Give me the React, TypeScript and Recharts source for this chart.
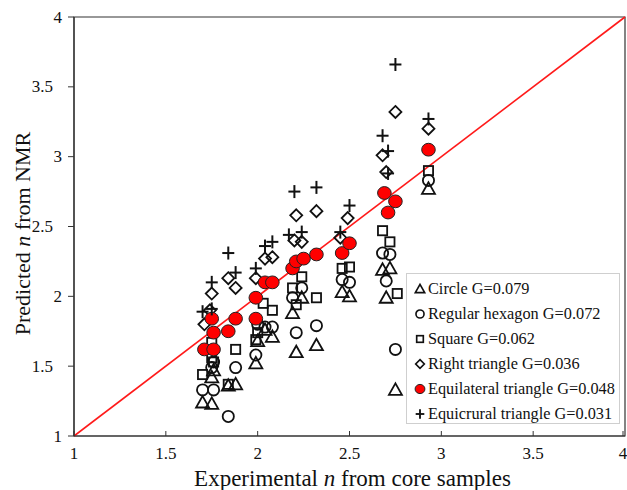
import React from "react";
import {
  ScatterChart,
  Scatter,
  XAxis,
  YAxis,
  ReferenceLine,
  ReferenceArea,
  Legend,
} from "recharts";

type Pt = [number, number];

const xTicks = [1, 1.5, 2, 2.5, 3, 3.5, 4];
const yTicks = [1, 1.5, 2, 2.5, 3, 3.5, 4];

const seriesNames = [
  "Circle G=0.079",
  "Regular hexagon G=0.072",
  "Square G=0.062",
  "Right triangle G=0.036",
  "Equilateral triangle G=0.048",
  "Equicrural triangle G=0.031",
];

const circleG079: Pt[] = [
  [1.7, 1.24], [1.75, 1.23], [1.75, 1.42], [1.76, 1.47], [1.84, 1.36], [1.88, 1.37],
  [1.99, 1.52], [2.0, 1.68], [2.04, 1.76], [2.08, 1.71], [2.19, 1.88], [2.21, 1.6],
  [2.24, 1.99], [2.32, 1.65], [2.46, 2.03], [2.5, 2.0], [2.68, 2.19], [2.72, 2.2],
  [2.7, 1.99], [2.75, 1.33], [2.93, 2.77],
];

const hexagonG072: Pt[] = [
  [1.7, 1.33], [1.76, 1.33], [1.75, 1.49], [1.76, 1.53], [1.84, 1.14], [1.88, 1.49],
  [1.99, 1.58], [2.0, 1.8], [2.04, 1.78], [2.08, 1.78], [2.19, 1.99], [2.21, 1.74],
  [2.24, 2.06], [2.32, 1.79], [2.46, 2.12], [2.5, 2.1], [2.68, 2.31], [2.72, 2.3],
  [2.7, 2.11], [2.75, 1.62], [2.93, 2.83],
];

const squareG062: Pt[] = [
  [1.7, 1.44], [1.75, 1.67], [1.75, 1.56], [1.76, 1.53], [1.84, 1.37], [1.88, 1.62],
  [1.99, 1.69], [2.0, 1.74], [2.03, 1.95], [2.08, 1.9], [2.19, 2.06], [2.21, 1.94],
  [2.24, 2.14], [2.32, 1.99], [2.46, 2.2], [2.5, 2.21], [2.68, 2.47], [2.72, 2.39],
  [2.76, 2.02], [2.93, 2.9],
];

const rightTriangleG036: Pt[] = [
  [1.75, 2.02], [1.71, 1.8], [1.74, 1.9], [1.84, 2.13], [1.88, 2.06], [1.99, 2.13],
  [2.04, 2.27], [2.08, 2.28], [2.21, 2.58], [2.32, 2.61], [2.2, 2.4], [2.24, 2.39],
  [2.45, 2.42], [2.49, 2.56], [2.68, 3.01], [2.7, 2.89], [2.75, 3.32], [2.93, 3.2],
];

const equilateralG048: Pt[] = [
  [1.71, 1.62], [1.76, 1.62], [1.76, 1.74], [1.75, 1.84], [1.84, 1.75], [1.88, 1.84],
  [1.99, 1.84], [1.99, 1.99], [2.04, 2.1], [2.08, 2.1], [2.19, 2.2], [2.21, 2.25],
  [2.25, 2.27], [2.32, 2.3], [2.46, 2.31], [2.5, 2.38], [2.69, 2.74], [2.75, 2.68],
  [2.71, 2.6], [2.93, 3.05],
];

const equicruralG031: Pt[] = [
  [1.75, 2.1], [1.7, 1.89], [1.75, 1.91], [1.84, 2.31], [1.88, 2.17], [1.99, 2.2],
  [2.04, 2.36], [2.08, 2.39], [2.2, 2.75], [2.32, 2.78], [2.24, 2.46], [2.17, 2.44],
  [2.45, 2.46], [2.5, 2.65], [2.68, 3.15], [2.71, 3.04], [2.71, 2.88], [2.75, 3.66],
  [2.93, 3.27],
];

const diag: Pt[] = [
  [1, 1],
  [4, 4],
];

const toXY = (arr: Pt[]) => arr.map(([x, y]) => ({ x, y }));

const FONT = "'Liberation Serif', 'Times New Roman', serif";
const INK = "#111";

type Kind = "tri" | "circ" | "sq" | "dia" | "red" | "plus";
const kinds: Kind[] = ["tri", "circ", "sq", "dia", "red", "plus"];

function Marker({ kind, cx, cy, s }: { kind: Kind; cx: number; cy: number; s: number }) {
  const sw = 1.8 * Math.min(1, s + 0.2);
  switch (kind) {
    case "tri":
      return (
        <polygon
          points={`${cx},${cy - 6.5 * s} ${cx - 6.5 * s},${cy + 5 * s} ${cx + 6.5 * s},${cy + 5 * s}`}
          fill="none"
          stroke={INK}
          strokeWidth={sw}
          strokeLinejoin="miter"
        />
      );
    case "circ":
      return <circle cx={cx} cy={cy} r={5.6 * s} fill="none" stroke={INK} strokeWidth={sw} />;
    case "sq":
      return (
        <rect x={cx - 4.6 * s} y={cy - 4.6 * s} width={9.2 * s} height={9.2 * s} fill="none" stroke={INK} strokeWidth={sw} />
      );
    case "dia":
      return (
        <polygon
          points={`${cx},${cy - 6 * s} ${cx + 6 * s},${cy} ${cx},${cy + 6 * s} ${cx - 6 * s},${cy}`}
          fill="none"
          stroke={INK}
          strokeWidth={sw}
        />
      );
    case "red":
      return <ellipse cx={cx} cy={cy} rx={6.8 * s} ry={6.4 * s} fill="#ff0000" stroke="#222" strokeWidth={1} />;
    case "plus":
      return (
        <g stroke={INK} strokeWidth={sw + 0.2}>
          <line x1={cx - 6 * s} x2={cx + 6 * s} y1={cy} y2={cy} />
          <line x1={cx} x2={cx} y1={cy - 6.5 * s} y2={cy + 6.5 * s} />
        </g>
      );
  }
  return null;
}

const makeShape = (kind: Kind) => (props: any) => {
  const { cx, cy } = props;
  if (cx == null || cy == null) return <g />;
  return <Marker kind={kind} cx={cx} cy={cy} s={1} />;
};

const XTick = (props: any) => {
  const { x, y, payload } = props;
  return (
    <g>
      <line x1={x} x2={x} y1={y} y2={y - 5} stroke="#333" strokeWidth={1} />
      <text x={x} y={y + 17} textAnchor="middle" dominantBaseline="central" fontFamily={FONT} fontSize={17} fill={INK}>
        {payload.value}
      </text>
    </g>
  );
};

const YTick = (props: any) => {
  const { x, y, payload } = props;
  const isInt = Number.isInteger(payload.value);
  return (
    <text
      x={x - (isInt ? 6 : 15)}
      y={y}
      textAnchor="end"
      dominantBaseline="central"
      fontFamily={FONT}
      fontSize={17}
      fill={INK}
    >
      {payload.value}
    </text>
  );
};

const XTitle = (props: any) => {
  const vb = props.viewBox || { x: 74, y: 436, width: 551, height: 54 };
  return (
    <text
      x={vb.x + vb.width / 2 + 3}
      y={vb.y + 42}
      textAnchor="middle"
      dominantBaseline="central"
      fontFamily={FONT}
      fontSize={23}
      fill={INK}
    >
      Experimental <tspan fontStyle="italic">n</tspan> from core samples
    </text>
  );
};

const YTitle = (props: any) => {
  const vb = props.viewBox || { x: 0, y: 17, width: 74, height: 419 };
  const cx = 22;
  const cy = vb.y + vb.height / 2 + 7;
  return (
    <text
      x={cx}
      y={cy}
      transform={`rotate(-90 ${cx} ${cy})`}
      textAnchor="middle"
      dominantBaseline="central"
      fontFamily={FONT}
      fontSize={22}
      fill={INK}
    >
      Predicted <tspan fontStyle="italic">n</tspan> from NMR
    </text>
  );
};

const LegendBox = (props: any) => {
  const present = new Set((props.payload || []).map((p: any) => p.value));
  const names = seriesNames.filter((n) => present.size === 0 || present.has(n));
  return (
    <div
      style={{
        width: 214,
        height: 151,
        boxSizing: "border-box",
        border: "1px solid #cfcfcf",
        background: "#fff",
        paddingTop: 2,
      }}
    >
      {names.map((name) => {
        const idx = seriesNames.indexOf(name);
        return (
          <div key={name} style={{ height: 25, display: "flex", alignItems: "center" }}>
            <svg width={20} height={20} style={{ marginLeft: 2, flex: "none" }}>
              <Marker kind={kinds[idx]} cx={11} cy={10} s={0.72} />
            </svg>
            <span
              style={{
                fontFamily: FONT,
                fontSize: 16.3,
                color: INK,
                whiteSpace: "nowrap",
                marginLeft: -1,
              }}
            >
              {name}
            </span>
          </div>
        );
      })}
    </div>
  );
};

const allSeries: Pt[][] = [circleG079, hexagonG072, squareG062, rightTriangleG036, equilateralG048, equicruralG031];

export default function App() {
  return (
    <div style={{ position: "absolute", left: 0, top: 0, width: 627, height: 490, background: "#fff" }}>
      <ScatterChart width={627} height={490} margin={{ top: 17, right: 2, left: 0, bottom: 0 }}>
        <XAxis
          type="number"
          dataKey="x"
          domain={[1, 4]}
          ticks={xTicks}
          allowDataOverflow
          height={54}
          tickSize={0}
          tickMargin={0}
          tickLine={false}
          axisLine={{ stroke: "#333", strokeWidth: 1.2 }}
          tick={<XTick />}
          label={<XTitle />}
        />
        <YAxis
          type="number"
          dataKey="y"
          domain={[1, 4]}
          ticks={yTicks}
          allowDataOverflow
          width={74}
          tickSize={6}
          tickMargin={0}
          tickLine={{ stroke: "#333" }}
          axisLine={{ stroke: "#333", strokeWidth: 1.2 }}
          tick={<YTick />}
          label={<YTitle />}
        />
        <ReferenceArea x1={1} x2={4} y1={1} y2={4} fill="none" stroke="#333" strokeWidth={1.2} />
        <ReferenceLine
          segment={diag.map(([x, y]) => ({ x, y }))}
          stroke="#ff1a1a"
          strokeWidth={1.6}
        />
        {allSeries.map((s, i) => (
          <Scatter
            key={seriesNames[i]}
            name={seriesNames[i]}
            data={toXY(s)}
            fill={i === 4 ? "#ff0000" : "#000"}
            shape={makeShape(kinds[i])}
            isAnimationActive={false}
          />
        ))}
        <Legend
          layout="vertical"
          align="center"
          verticalAlign="middle"
          content={<LegendBox />}
          wrapperStyle={{ position: "absolute", left: 406, top: 273, width: 214, height: 151 }}
        />
      </ScatterChart>
    </div>
  );
}
